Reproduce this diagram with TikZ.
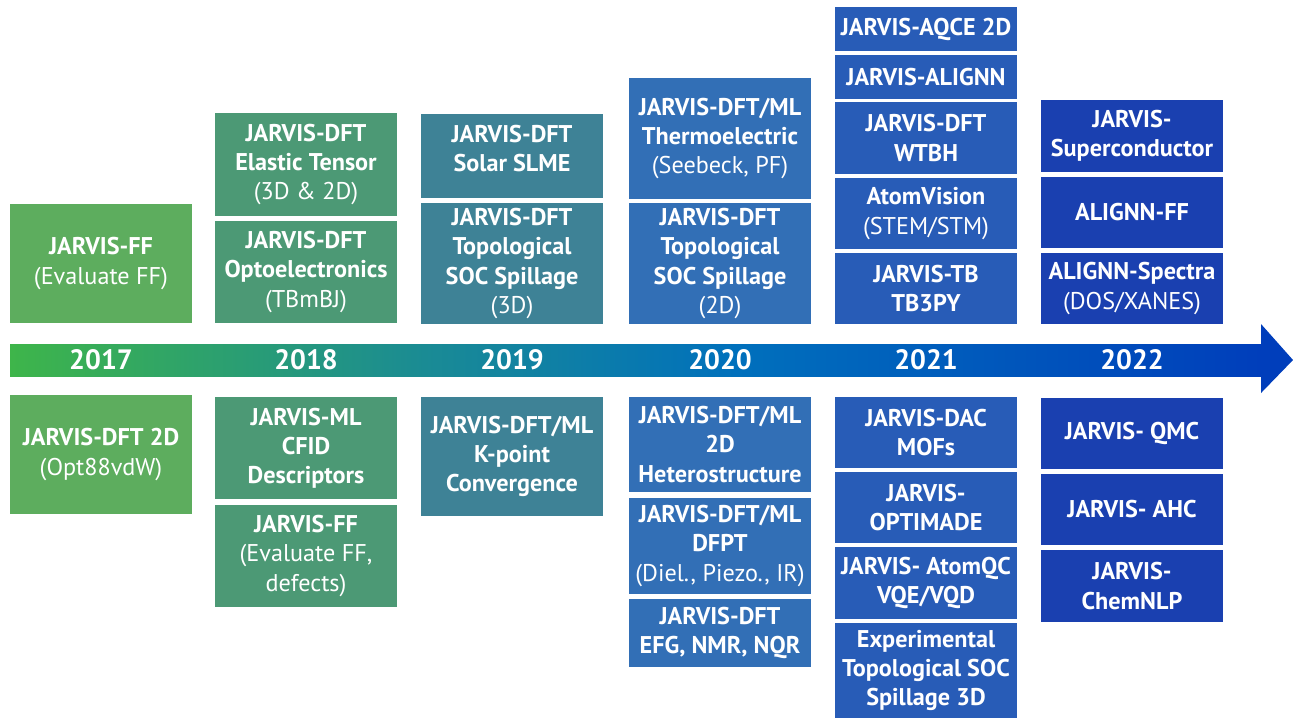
\documentclass[tikz,border=0pt]{standalone}
\usepackage{fontspec}
\setmainfont{PT Sans}
\usepackage{tikz}
\definecolor{c17}{RGB}{93,173,94}
\definecolor{c18}{RGB}{76,153,117}
\definecolor{c19}{RGB}{62,130,150}
\definecolor{c20}{RGB}{50,111,182}
\definecolor{c21}{RGB}{40,92,183}
\definecolor{c22}{RGB}{26,64,176}
\definecolor{band0}{RGB}{62,181,74}
\definecolor{band1}{RGB}{25,138,150}
\definecolor{band2}{RGB}{0,112,188}
\definecolor{band3}{RGB}{0,62,187}
\pgfdeclarehorizontalshading{bandshade}{100bp}{color(0bp)=(band0); color(25bp)=(band0); color(42bp)=(band1); color(54bp)=(band2); color(75bp)=(band3); color(100bp)=(band3)}
\newcommand{\lite}[1]{{\mdseries #1}}

\begin{document}
\begin{tikzpicture}[
            x=0.5pt, y=-0.5pt,
            box/.style={text=white, align=center, inner sep=0pt,
                minimum width=91pt, font=\bfseries\fontsize{12.1}{14.6}\selectfont},
            hgt/.style={minimum height=#1*0.5pt},
            yr/.style={text=white, font=\bfseries\fontsize{14}{16}\selectfont}
        ]
        \useasboundingbox (0,0) rectangle (1293,719);
        % time line
        \shade[shading=bandshade] (10,344) rectangle (1262,376);
        \fill[band3] (1261,324) -- (1293,360) -- (1261,393) -- cycle;
        \foreach \yy/\xx in {2017/101, 2018/306, 2019/512, 2020/720, 2021/926, 2022/1132}
            \node[yr] (y\yy) at (\xx,360) {\yy};
        % 2017
        \node[box, fill=c17, hgt=119] (ff17) at (101,263.5) {JARVIS-FF\\\lite{(Evaluate FF)}};
        \node[box, fill=c17, hgt=119] (dft2d) at (101,454.5) {JARVIS-DFT 2D\\\lite{(Opt88vdW)}};
        % 2018
        \node[box, fill=c18, hgt=103] (elastic) at (306,164.5) {JARVIS-DFT\\Elastic Tensor\\\lite{(3D \& 2D)}};
        \node[box, fill=c18, hgt=102] (opto) at (306,272) {JARVIS-DFT\\Optoelectronics\\\lite{(TBmBJ)}};
        \node[box, fill=c18, hgt=102] (cfid) at (306,448) {JARVIS-ML\\CFID\\Descriptors};
        \node[box, fill=c18, hgt=102] (ff18) at (306,556) {JARVIS-FF\\\lite{(Evaluate FF,}\\\lite{defects)}};
        % 2019
        \node[box, fill=c19, hgt=84] (slme) at (512,156) {JARVIS-DFT\\Solar SLME\\[-7pt]};
        \node[box, fill=c19, hgt=121] (topo3d) at (512,263.5) {JARVIS-DFT\\Topological\\SOC Spillage\\\lite{(3D)}};
        \node[box, fill=c19, hgt=119] (kpoint) at (512,456.5) {JARVIS-DFT/ML\\K-point\\Convergence};
        % 2020
        \node[box, fill=c20, hgt=121] (thermo) at (720,138.5) {JARVIS-DFT/ML\\Thermoelectric\\\lite{(Seebeck, PF)}};
        \node[box, fill=c20, hgt=121] (topo2d) at (720,263.5) {JARVIS-DFT\\Topological\\SOC Spillage\\\lite{(2D)}};
        \node[box, fill=c20, hgt=95] (hetero) at (720,444.5) {JARVIS-DFT/ML\\2D\\Heterostructure};
        \node[box, fill=c20, hgt=96] (dfpt) at (720,546) {JARVIS-DFT/ML\\DFPT\\\lite{(Diel., Piezo., IR)}};
        \node[box, fill=c20, hgt=68] (efg) at (720,633) {JARVIS-DFT\\EFG, NMR, NQR};
        % 2021
        \node[box, fill=c21, hgt=44] (aqce) at (926,29) {JARVIS-AQCE 2D};
        \node[box, fill=c21, hgt=44] (alignn) at (926,77) {JARVIS-ALIGNN};
        \node[box, fill=c21, hgt=72] (wtbh) at (926,138) {JARVIS-DFT\\WTBH};
        \node[box, fill=c21, hgt=71] (vision) at (926,213.5) {AtomVision\\\lite{(STEM/STM)}};
        \node[box, fill=c21, hgt=71] (tb3py) at (926,288.5) {JARVIS-TB\\TB3PY};
        \node[box, fill=c21, hgt=71] (dac) at (926,432.5) {JARVIS-DAC\\MOFs};
        \node[box, fill=c21, hgt=71] (optimade) at (926,507.5) {JARVIS-\\OPTIMADE};
        \node[box, fill=c21, hgt=72] (atomqc) at (926,583) {JARVIS- AtomQC\\VQE/VQD};
        \node[box, fill=c21, hgt=95] (exper) at (926,670.5) {Experimental\\Topological SOC\\Spillage 3D};
        % 2022
        \node[box, fill=c22, hgt=72] (supcon) at (1132,136) {JARVIS-\\Superconductor};
        \node[box, fill=c22, hgt=71] (alignnff) at (1132,212.5) {ALIGNN-FF};
        \node[box, fill=c22, hgt=71] (spectra) at (1132,288.5) {ALIGNN-Spectra\\\lite{(DOS/XANES)}};
        \node[box, fill=c22, hgt=71] (qmc) at (1132,433.5) {JARVIS- QMC};
        \node[box, fill=c22, hgt=71] (ahc) at (1132,509.5) {JARVIS- AHC};
        \node[box, fill=c22, hgt=72] (chemnlp) at (1132,586) {JARVIS-\\ChemNLP};
        \end{tikzpicture}
\end{document}
